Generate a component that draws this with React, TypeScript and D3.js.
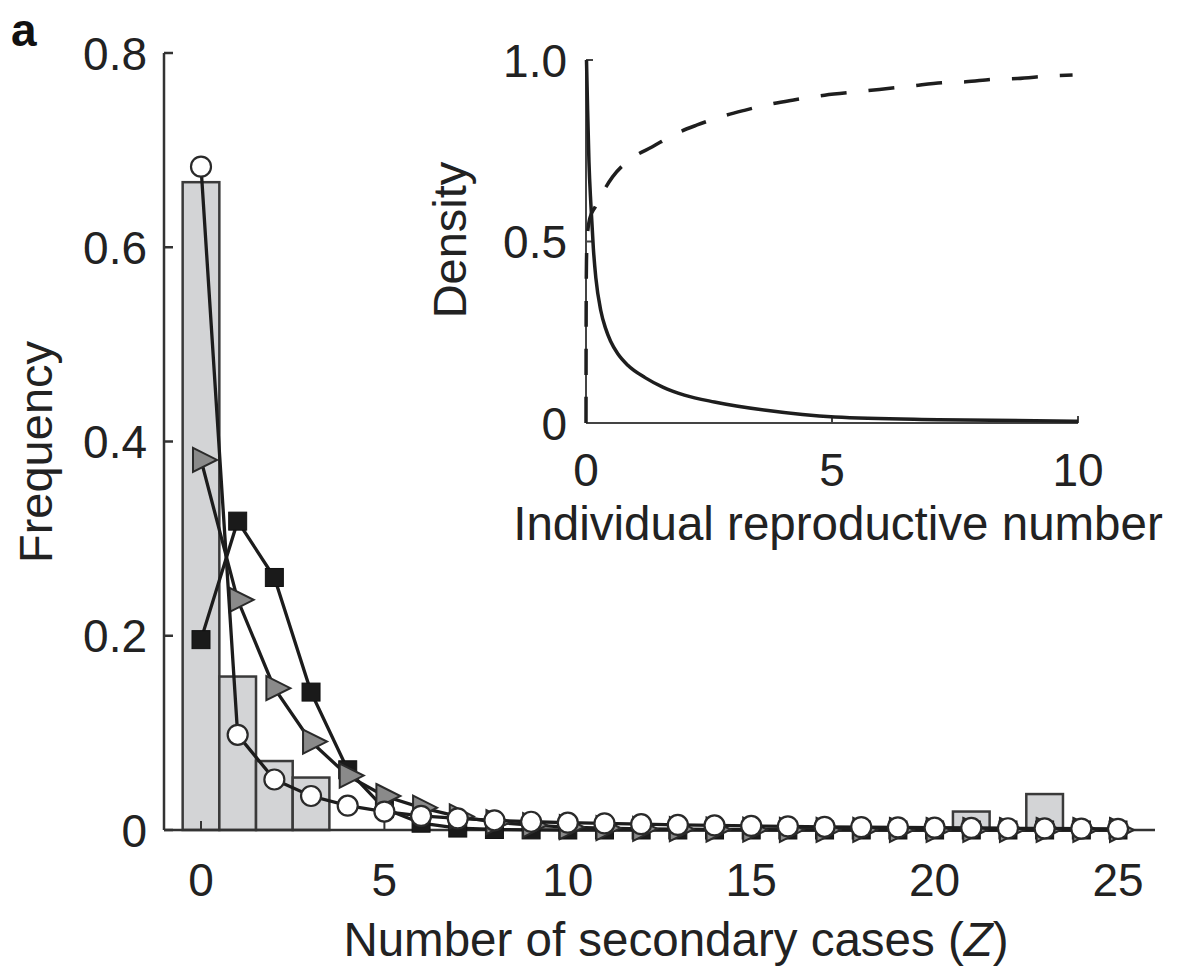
import React from "react";
import * as d3 from "d3";

// number of secondary cases Z (categories)
const cases = [0, 1, 2, 3, 4, 5, 6, 7, 8, 9, 10, 11, 12, 13, 14, 15, 16, 17, 18, 19, 20, 21, 22, 23, 24, 25];

// observed frequency (grey bars)
const observed = [0.667, 0.158, 0.071, 0.054, 0, 0, 0, 0, 0, 0, 0, 0, 0, 0, 0, 0, 0, 0, 0, 0, 0, 0.019, 0, 0.037, 0, 0];

// Poisson model (black squares)
const poisson = [0.196, 0.318, 0.26, 0.142, 0.062, 0.022, 0.007, 0.002, 0.0005, 0.0001, 0, 0, 0, 0, 0, 0, 0, 0, 0, 0, 0, 0, 0, 0, 0, 0];

// geometric model (grey triangles)
const geometric = [0.381, 0.237, 0.146, 0.091, 0.056, 0.035, 0.023, 0.014, 0.008, 0.005, 0.003, 0.002, 0.0012, 0.0008, 0.0005, 0.0003, 0.0002, 0.0001, 0.0001, 0, 0, 0, 0, 0, 0, 0];

// negative binomial model (open circles)
const negBinomial = [0.683, 0.098, 0.052, 0.035, 0.025, 0.019, 0.0145, 0.012, 0.01, 0.0085, 0.0075, 0.0068, 0.006, 0.0052, 0.0047, 0.0042, 0.0037, 0.0033, 0.003, 0.0027, 0.0024, 0.0021, 0.0018, 0.0016, 0.0014, 0.0012];

const yTicks = [0, 0.2, 0.4, 0.6, 0.8];
const xTicks = [0, 5, 10, 15, 20, 25];

// inset: density of individual reproductive number (solid)
const densityR = [0.01, 0.03, 0.06, 0.1, 0.15, 0.2, 0.3, 0.4, 0.5, 0.65, 0.85, 1.2, 1.56, 2.0, 2.61, 3.66, 5.06, 7.16, 10];
const densityV = [1.0, 0.88, 0.72, 0.6, 0.48, 0.4, 0.31, 0.26, 0.225, 0.19, 0.159, 0.125, 0.099, 0.077, 0.058, 0.035, 0.0165, 0.0092, 0.0046];

// inset: cumulative (dashed)
const cumR = [0, 0.003, 0.01, 0.03, 0.08, 0.19, 0.54, 0.925, 1.35, 1.84, 2.26, 2.75, 3.24, 3.8, 4.22, 4.85, 5.55, 6.18, 6.6, 7.23, 7.72, 8.28, 8.77, 9.4, 9.89];
const cumV = [0, 0.3, 0.45, 0.52, 0.565, 0.596, 0.678, 0.729, 0.761, 0.798, 0.821, 0.844, 0.862, 0.88, 0.89, 0.903, 0.913, 0.922, 0.928, 0.9375, 0.94, 0.947, 0.949, 0.956, 0.959];

const insetYTicks = [0, 0.5, 1.0];
const insetXTicks = [0, 5, 10];

const font = "'Liberation Sans', Arial, Helvetica, sans-serif";
const ink = "#222";

export default function App() {
  const x = d3.scaleLinear().domain([0, 25]).range([201, 1118]);
  const y = d3.scaleLinear().domain([0, 0.8]).range([830, 53]);
  const ix = d3.scaleLinear().domain([0, 10]).range([586, 1078]);
  const iy = d3.scaleLinear().domain([0, 1]).range([423, 60]);

  const series = (vals: number[]) => cases.map((c, i) => [c, vals[i]] as [number, number]);
  const line = d3.line<[number, number]>().x(d => x(d[0])).y(d => y(d[1]));
  const insetLine = d3
    .line<[number, number]>()
    .x(d => ix(d[0]))
    .y(d => iy(d[1]))
    .curve(d3.curveMonotoneX);

  const barW = x(1) - x(0);
  const tri = "M-8,-12L16,0L-8,12Z";

  return (
    <svg width={1190} height={972} style={{ position: "absolute", left: 0, top: 0, background: "#fff" }} fontFamily={font}>
      <text x={11} y={46} fontSize={46} fontWeight="bold" fill="#111">a</text>

      {/* bars */}
      {cases.map((c, i) =>
        observed[i] > 0 ? (
          <rect key={"b" + c} x={x(c) - barW / 2} y={y(observed[i])} width={barW} height={y(0) - y(observed[i])}
            fill="#d3d4d6" stroke="#3a3a3a" strokeWidth={2.5} />
        ) : null
      )}

      {/* main axes */}
      <line x1={164} x2={1155} y1={y(0)} y2={y(0)} stroke="#333" strokeWidth={2.5} />
      <line x1={164} x2={164} y1={y(0)} y2={y(0.8)} stroke="#333" strokeWidth={2.5} />
      {yTicks.map(t => (
        <g key={"yt" + t}>
          <line x1={164} x2={173} y1={y(t)} y2={y(t)} stroke="#333" strokeWidth={2.5} />
          <text x={147} y={y(t)} dy="0.36em" textAnchor="end" fontSize={46} fill={ink}>{t === 0 ? "0" : d3.format(".1f")(t)}</text>
        </g>
      ))}
      {xTicks.map(t => (
        <g key={"xt" + t}>
          <line x1={x(t)} x2={x(t)} y1={y(0)} y2={y(0) - 9} stroke="#333" strokeWidth={2} />
          <text x={x(t)} y={896} textAnchor="middle" fontSize={46} fill={ink}>{t}</text>
        </g>
      ))}
      <text transform="translate(52,452) rotate(-90)" textAnchor="middle" fontSize={47} fill={ink}>Frequency</text>
      <text x={676} y={956} textAnchor="middle" fontSize={47.5} fill={ink}>
        Number of secondary cases (<tspan fontStyle="italic">Z</tspan>)
      </text>

      {/* Poisson squares */}
      <path d={line(series(poisson)) || ""} fill="none" stroke="#1c1c1c" strokeWidth={3.3} />
      {cases.map((c, i) => (
        <rect key={"s" + c} x={x(c) - 9} y={y(poisson[i]) - 9} width={18} height={18} fill="#1a1a1a" stroke="#111" strokeWidth={1} />
      ))}

      {/* geometric triangles */}
      <path d={line(series(geometric)) || ""} fill="none" stroke="#1c1c1c" strokeWidth={3.3} />
      {cases.map((c, i) => (
        <path key={"t" + c} d={tri} transform={`translate(${x(c)},${y(geometric[i])})`} fill="#8a8a8a" stroke="#2a2a2a" strokeWidth={2} />
      ))}

      {/* negative binomial circles */}
      <path d={line(series(negBinomial)) || ""} fill="none" stroke="#1c1c1c" strokeWidth={3.3} />
      {cases.map((c, i) => (
        <circle key={"c" + c} cx={x(c)} cy={y(negBinomial[i])} r={10} fill="#fff" stroke="#2a2a2a" strokeWidth={2.2} />
      ))}

      {/* inset */}
      <line x1={ix(0)} x2={ix(10)} y1={iy(0)} y2={iy(0)} stroke="#444" strokeWidth={2} />
      <line x1={ix(0)} x2={ix(0)} y1={iy(0)} y2={iy(1)} stroke="#444" strokeWidth={2} />
      {insetXTicks.map(t => (
        <g key={"ixt" + t}>
          <line x1={ix(t)} x2={ix(t)} y1={iy(0)} y2={iy(0) - 7} stroke="#444" strokeWidth={2} />
          <text x={ix(t)} y={486} textAnchor="middle" fontSize={46} fill={ink}>{t}</text>
        </g>
      ))}
      {insetYTicks.map(t => (
        <g key={"iyt" + t}>
          <line x1={ix(0)} x2={ix(0) + 7} y1={iy(t)} y2={iy(t)} stroke="#444" strokeWidth={2} />
          <text x={567} y={iy(t)} dy="0.36em" textAnchor="end" fontSize={46} fill={ink}>{t === 0 ? "0" : d3.format(".1f")(t)}</text>
        </g>
      ))}
      <text transform="translate(466,240) rotate(-90)" textAnchor="middle" fontSize={47} fill={ink}>Density</text>
      <text x={838} y={540} textAnchor="middle" fontSize={47.5} fill={ink}>Individual reproductive number</text>

      <path d={insetLine(cumR.map((r, i) => [r, cumV[i]] as [number, number])) || ""} fill="none" stroke="#1e1e1e" strokeWidth={3.5} strokeDasharray="26,22" />
      <path d={insetLine(densityR.map((r, i) => [r, densityV[i]] as [number, number])) || ""} fill="none" stroke="#1e1e1e" strokeWidth={3.5} />
    </svg>
  );
}
